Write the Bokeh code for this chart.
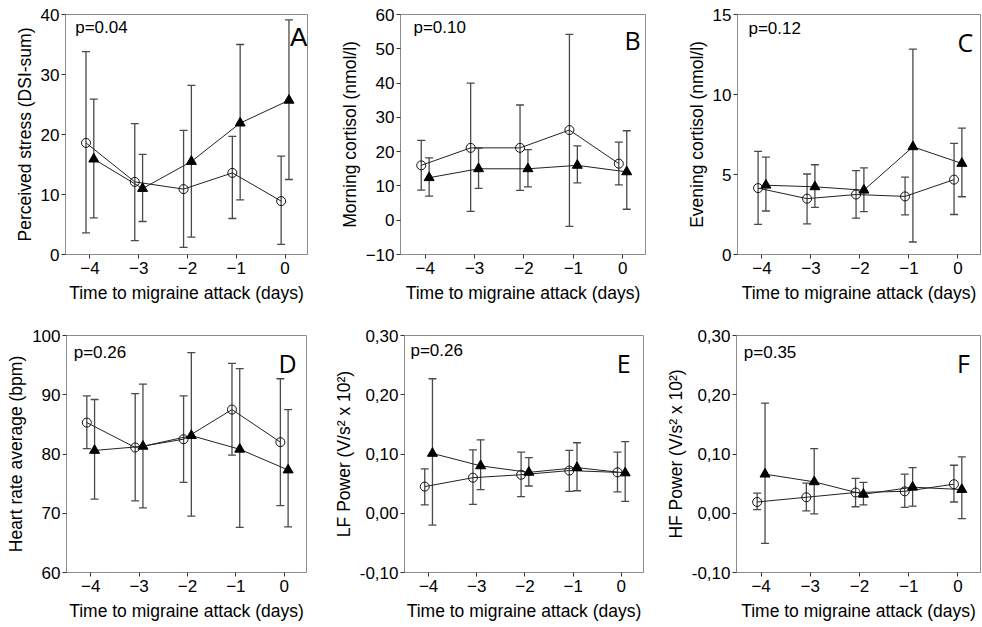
from bokeh.plotting import figure
from bokeh.layouts import column, row
from bokeh.models import (ColumnDataSource, Whisker, TeeHead, FixedTicker, Range1d,
                          CustomJSTickFormatter, Label)
from bokeh.embed import file_html
from bokeh.resources import INLINE

days = [-4, -3, -2, -1, 0]
day_ticks = [-4, -3, -2, -1, 0]
x_label = "Time to migraine attack (days)"

# Panel A
a_circ_mean = [18.6, 12.1, 10.9, 13.6, 8.9]
a_circ_hi = [33.8, 21.8, 20.7, 19.7, 16.4]
a_circ_lo = [3.6, 2.3, 1.2, 6.0, 1.7]
a_tri_mean = [15.9, 11.0, 15.5, 21.9, 25.7]
a_tri_hi = [25.9, 16.7, 28.2, 35.0, 39.1]
a_tri_lo = [6.1, 5.5, 2.9, 9.1, 12.5]
# Panel B
b_circ_mean = [16.0, 21.1, 21.1, 26.3, 16.5]
b_circ_hi = [23.3, 40.0, 33.6, 54.2, 22.8]
b_circ_lo = [8.8, 2.6, 8.7, -1.8, 10.3]
b_tri_mean = [12.4, 15.0, 15.0, 16.0, 14.1]
b_tri_hi = [18.2, 21.0, 20.6, 21.7, 26.1]
b_tri_lo = [7.0, 9.3, 9.7, 10.9, 3.2]
# Panel C
c_circ_mean = [4.15, 3.49, 3.75, 3.63, 4.68]
c_circ_hi = [6.44, 5.03, 5.24, 4.83, 6.95]
c_circ_lo = [1.88, 1.92, 2.27, 2.48, 2.50]
c_tri_mean = [4.33, 4.23, 4.02, 6.73, 5.69]
c_tri_hi = [6.09, 5.61, 5.41, 12.83, 7.90]
c_tri_lo = [2.72, 2.95, 2.68, 0.78, 3.61]
# Panel D
d_circ_mean = [85.3, 81.1, 82.5, 87.5, 82.0]
d_circ_hi = [89.8, 90.2, 89.8, 95.3, 92.7]
d_circ_lo = [80.9, 72.1, 75.2, 79.8, 71.3]
d_tri_mean = [80.6, 81.3, 83.1, 80.8, 77.3]
d_tri_hi = [89.2, 91.8, 97.1, 94.4, 87.5]
d_tri_lo = [72.4, 70.9, 69.5, 67.6, 67.7]
# Panel E
e_circ_mean = [0.045, 0.060, 0.065, 0.072, 0.069]
e_circ_hi = [0.075, 0.107, 0.103, 0.106, 0.103]
e_circ_lo = [0.014, 0.015, 0.028, 0.037, 0.036]
e_tri_mean = [0.101, 0.080, 0.069, 0.077, 0.068]
e_tri_hi = [0.227, 0.124, 0.094, 0.119, 0.121]
e_tri_lo = [-0.020, 0.040, 0.046, 0.038, 0.020]
# Panel F
f_circ_mean = [0.019, 0.027, 0.035, 0.037, 0.049]
f_circ_hi = [0.034, 0.051, 0.059, 0.066, 0.081]
f_circ_lo = [0.006, 0.004, 0.011, 0.010, 0.019]
f_tri_mean = [0.066, 0.053, 0.032, 0.044, 0.040]
f_tri_hi = [0.186, 0.109, 0.052, 0.077, 0.095]
f_tri_lo = [-0.051, -0.001, 0.014, 0.012, -0.009]

y_labels = ["Perceived stress (DSI-sum)", "Morning cortisol (nmol/l)", "Evening cortisol (nmol/l)",
            "Heart rate average (bpm)", "LF Power (V/s\u00b2 x 10\u00b2)", "HF Power (V/s\u00b2 x 10\u00b2)"]
p_texts = ["p=0.04", "p=0.10", "p=0.12", "p=0.26", "p=0.26", "p=0.35"]
letters = ["A", "B", "C", "D", "E", "F"]
y_ticks = [[0, 10, 20, 30, 40], [-10, 0, 10, 20, 30, 40, 50, 60], [0, 5, 10, 15],
           [60, 70, 80, 90, 100], [-0.10, 0.0, 0.10, 0.20, 0.30], [-0.10, 0.0, 0.10, 0.20, 0.30]]

OFF = 0.08
X0, X1 = -4.5, 0.46
BAR_COL = "#4a4a4a"
FRAME_COL = "#8c8c8c"


def make_panel(i, cm, chi, clo, tm, thi, tlo, width, height, bl, br, bt, bb,
               p_pos, l_pos, comma=False):
    yt = y_ticks[i]
    y0, y1 = yt[0], yt[-1]
    p = figure(width=width, height=height, output_backend="svg", toolbar_location=None,
               x_range=Range1d(X0, X1), y_range=Range1d(y0, y1),
               min_border_left=bl, min_border_right=br, min_border_top=bt, min_border_bottom=bb)
    p.grid.visible = False
    p.outline_line_color = FRAME_COL
    p.outline_line_width = 1
    p.background_fill_color = "white"
    for ax in (p.xaxis[0], p.yaxis[0]):
        ax.axis_line_color = FRAME_COL
        ax.major_tick_line_color = "#333333"
        ax.major_tick_out = 4
        ax.major_tick_in = 0
        ax.minor_tick_line_color = None
        ax.major_label_text_font = "Liberation Sans"
        ax.major_label_text_font_size = "17px"
        ax.major_label_text_color = "black"
        ax.axis_label_text_font = "Liberation Sans"
        ax.axis_label_text_font_size = "17.5px"
        ax.axis_label_text_font_style = "normal"
        ax.axis_label_text_color = "black"
    p.yaxis.major_label_standoff = 2
    p.yaxis.axis_label_standoff = 3
    p.xaxis.major_label_standoff = 3
    p.xaxis.axis_label_standoff = 6
    p.xaxis.ticker = FixedTicker(ticks=day_ticks)
    p.yaxis.ticker = FixedTicker(ticks=yt)
    p.xaxis.axis_label = x_label
    p.yaxis.axis_label = y_labels[i]
    if comma:
        p.yaxis.formatter = CustomJSTickFormatter(
            code="return tick.toFixed(2).replace('.', ',');")

    cx = [d - OFF for d in days]
    tx = [d + OFF for d in days]
    src_c = ColumnDataSource(dict(x=cx, m=cm, hi=chi, lo=clo))
    src_t = ColumnDataSource(dict(x=tx, m=tm, hi=thi, lo=tlo))
    for src in (src_c, src_t):
        w = Whisker(source=src, base="x", upper="hi", lower="lo", dimension="height",
                    line_color=BAR_COL, line_width=1.3,
                    upper_head=TeeHead(size=8, line_color=BAR_COL, line_width=1.3),
                    lower_head=TeeHead(size=8, line_color=BAR_COL, line_width=1.3))
        p.add_layout(w)
    p.line("x", "m", source=src_c, line_color="#222222", line_width=1)
    p.line("x", "m", source=src_t, line_color="#222222", line_width=1)
    p.scatter("x", "m", source=src_c, marker="circle", size=9, fill_alpha=0,
              line_color="#111111", line_width=1)
    p.scatter("x", "m", source=src_t, marker="triangle", size=10, fill_color="black",
              line_color="black")

    fx = lambda f: X0 + f * (X1 - X0)
    fy = lambda f: y1 - f * (y1 - y0)
    p.add_layout(Label(x=fx(p_pos[0]), y=fy(p_pos[1]), text=p_texts[i],
                       text_font="Liberation Sans", text_font_size="17px",
                       text_color="black", text_align="left", text_baseline="middle"))
    p.add_layout(Label(x=fx(l_pos[0]), y=fy(l_pos[1]), text=letters[i],
                       text_font="Liberation Sans" if i == 0 else "Open Sans",
                       text_font_size="26px" if i == 0 else "25px",
                       text_color="black", text_align="center", text_baseline="middle"))
    return p


pA = make_panel(0, a_circ_mean, a_circ_hi, a_circ_lo, a_tri_mean, a_tri_hi, a_tri_lo,
                330, 312, 65, 23, 14, 56, (0.04, 0.055), (0.963, 0.095))
pB = make_panel(1, b_circ_mean, b_circ_hi, b_circ_lo, b_tri_mean, b_tri_hi, b_tri_lo,
                325, 312, 70, 10, 14, 58, (0.053, 0.055), (0.947, 0.105))
pC = make_panel(2, c_circ_mean, c_circ_hi, c_circ_lo, c_tri_mean, c_tri_hi, c_tri_lo,
                327, 312, 82, 2, 12, 56, (0.045, 0.06), (0.938, 0.116))
pD = make_panel(3, d_circ_mean, d_circ_hi, d_circ_lo, d_tri_mean, d_tri_hi, d_tri_lo,
                330, 315, 66, 24, 23, 55, (0.03, 0.07), (0.921, 0.116))
pE = make_panel(4, e_circ_mean, e_circ_hi, e_circ_lo, e_tri_mean, e_tri_hi, e_tri_lo,
                325, 315, 73, 12, 23, 55, (0.025, 0.062), (0.917, 0.116), comma=True)
pF = make_panel(5, f_circ_mean, f_circ_hi, f_circ_lo, f_tri_mean, f_tri_hi, f_tri_lo,
                327, 315, 81, 2, 23, 55, (0.03, 0.07), (0.93, 0.116), comma=True)

layout = column(row(pA, pB, pC), row(pD, pE, pF))
open("out.html", "w").write(file_html(layout, INLINE))
